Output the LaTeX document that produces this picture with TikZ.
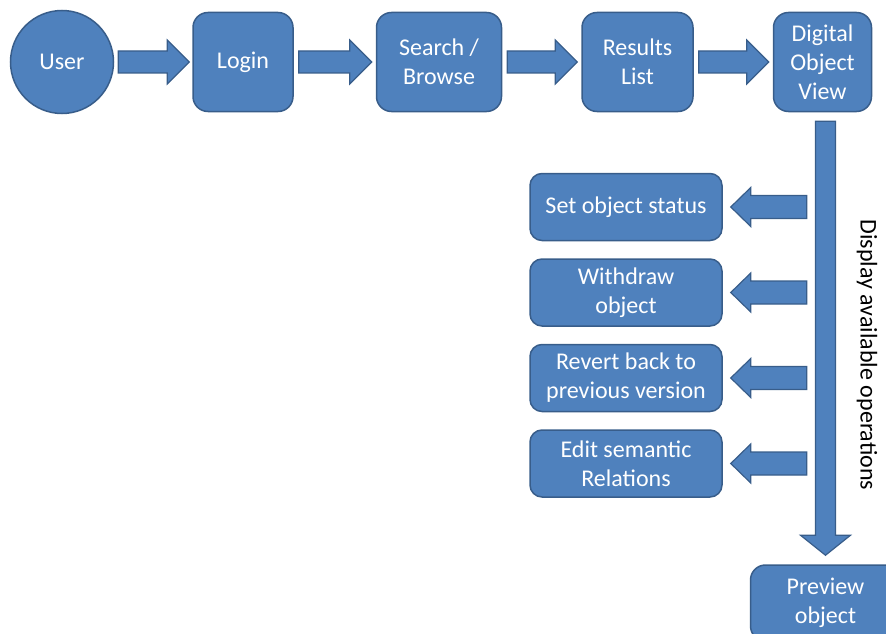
\documentclass[tikz,border=0pt]{standalone}
\usepackage{fontspec}
\setmainfont{Carlito}
\usetikzlibrary{positioning, calc}

\definecolor{boxblue}{RGB}{79,129,189}
\definecolor{edgeblue}{RGB}{56,93,138}

\tikzset{
    bashaft/.store in=\bashaft, bahead/.store in=\bahead, batip/.store in=\batip,
    bagapa/.store in=\bagapa, bagapb/.store in=\bagapb,
    bashaft=11pt, bahead=22pt, batip=22pt, bagapa=5pt, bagapb=4pt
}

\begin{document}
\begin{tikzpicture}[
    stepbox/.style={draw=edgeblue, line width=1.5pt, fill=boxblue, rounded corners=15pt,
                    text=white, align=center, font=\fontsize{24}{29}\selectfont,
                    minimum height=99pt, inner sep=3pt},
    userdisc/.style={draw=edgeblue, line width=1.5pt, fill=boxblue, circle,
                     text=white, font=\fontsize{24}{29}\selectfont, minimum size=103pt},
    opbox/.style={draw=edgeblue, line width=1.5pt, fill=boxblue, rounded corners=12pt,
                  text=white, align=center, font=\fontsize{24}{29}\selectfont,
                  minimum width=192pt, minimum height=67pt, inner sep=2pt},
    blockarrow/.style={draw=edgeblue, fill=boxblue, line width=1.2pt, line join=miter,
        to path={
            ($(\tikztostart)!\bagapa!(\tikztotarget)$) coordinate (ba-s)
            ($(\tikztotarget)!\bagapb!(\tikztostart)$) coordinate (ba-t)
            ($(ba-t)!\batip!(ba-s)$) coordinate (ba-h)
            ($(ba-s)!\bashaft!90:(ba-t)$) -- ($(ba-h)!\bashaft!90:(ba-t)$)
            -- ($(ba-h)!\bahead!90:(ba-t)$) -- (ba-t)
            -- ($(ba-h)!\bahead!-90:(ba-t)$) -- ($(ba-h)!\bashaft!-90:(ba-t)$)
            -- ($(ba-s)!\bashaft!-90:(ba-t)$) -- cycle}}
]
    \useasboundingbox (0,0) rectangle (886pt,-634pt);

    % ========== top row ==========
    \node[userdisc] (user) at (62pt,-62pt) {User};
    \node[stepbox, minimum width=100pt, right=78pt of user]    (login)   {Login};
    \node[stepbox, minimum width=125pt, right=82pt of login]   (search)  {Search /\\Browse};
    \node[stepbox, minimum width=111pt, right=79pt of search]  (results) {Results\\List};
    \node[stepbox, minimum width=98pt,  right=79pt of results] (dov)     {Digital\\Object\\View};

    % ========== operations ==========
    \node[opbox] (setstatus) at (626pt,-207pt) {Set object status};
    \node[opbox, below=17pt of setstatus] (withdraw) {Withdraw\\object};
    \node[opbox, below=17pt of withdraw]  (revert)   {Revert back to\\previous version};
    \node[opbox, below=17pt of revert]    (editrel)  {Edit semantic\\Relations};

    \node[stepbox, minimum width=150pt, minimum height=76pt, below=452pt of dov, xshift=3pt]
        (preview) {Preview\\object};

    \node[rotate=-90, font=\fontsize{24}{29}\selectfont] (opslabel) at (867pt,-355pt)
        {Display available operations};

    % --- flow ---
    \draw[blockarrow, bagapa=4pt, bagapb=3pt] (user.east) to (login.west);
    \draw[blockarrow] (login.east)   to (search.west);
    \draw[blockarrow] (search.east)  to (results.west);
    \draw[blockarrow] (results.east) to (dov.west);

    \coordinate (dovfoot) at ($(dov.south)+(3pt,0)$);
    \draw[blockarrow, bashaft=10pt, bahead=25pt, batip=20pt, bagapa=9pt, bagapb=9pt]
        (dovfoot) to (preview.north);

    % --- offered operations ---
    \coordinate (tap1) at ($(setstatus.east)+(84pt,0)$);
    \coordinate (tap2) at ($(withdraw.east)+(84pt,0)$);
    \coordinate (tap3) at ($(revert.east)+(84pt,0)$);
    \coordinate (tap4) at ($(editrel.east)+(84pt,0)$);
    \draw[blockarrow, bashaft=11.5pt, bahead=19.5pt, batip=20pt, bagapa=0pt, bagapb=8pt]
        (tap1) to (setstatus.east);
    \draw[blockarrow, bashaft=11.5pt, bahead=19.5pt, batip=20pt, bagapa=0pt, bagapb=8pt]
        (tap2) to (withdraw.east);
    \draw[blockarrow, bashaft=11.5pt, bahead=19.5pt, batip=20pt, bagapa=0pt, bagapb=8pt]
        (tap3) to (revert.east);
    \draw[blockarrow, bashaft=11.5pt, bahead=19.5pt, batip=20pt, bagapa=0pt, bagapb=8pt]
        (tap4) to (editrel.east);
\end{tikzpicture}
\end{document}
